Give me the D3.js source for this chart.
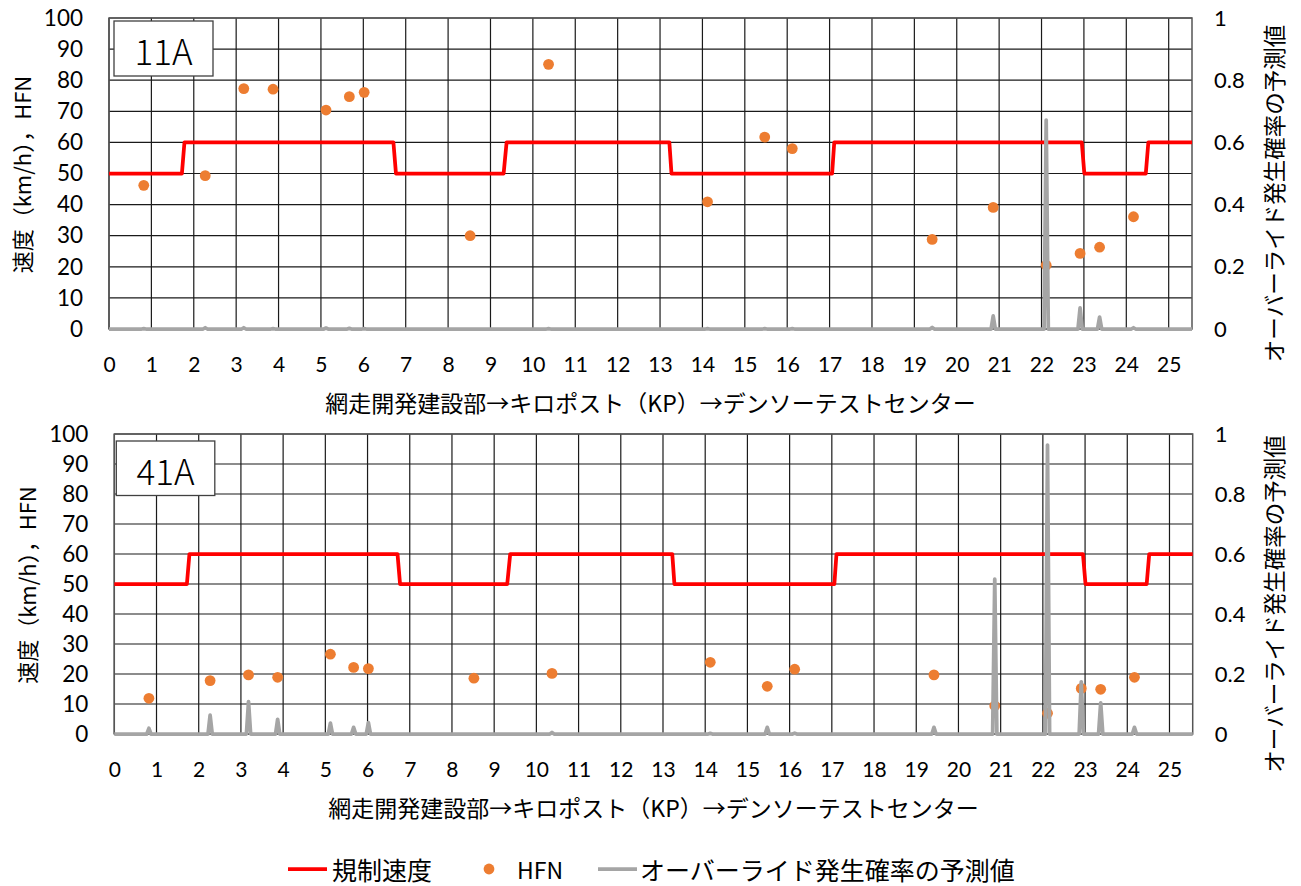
<!DOCTYPE html>
<html>
<head>
<meta charset="utf-8">
<script src="https://cdn.jsdelivr.net/npm/d3@7/dist/d3.min.js"></script>
<style>
  body { margin: 0; background: #fff; }
  svg { display: block; }
  text { font-family: "Noto Sans CJK JP", "Noto Sans", sans-serif; fill: #000; }
  .tick text { font-family: Lato, "Noto Sans", sans-serif; }
</style>
</head>
<body>
<svg id="chart" width="1301" height="886"></svg>
<script>
// Kilopost positions of the HFN survey points (km)
const surveyKm = [0.82, 2.27, 3.18, 3.87, 5.12, 5.67, 6.02, 8.52, 10.37, 14.12,
                  15.47, 16.12, 19.42, 20.86, 22.11, 22.91, 23.37, 24.17];

// HFN values at each survey point
const hfn11A = [46.2, 49.3, 77.3, 77.1, 70.4, 74.7, 76.1, 30.0, 85.1, 40.9,
                61.7, 58.0, 28.8, 39.1, 20.5, 24.3, 26.3, 36.1];
const hfn41A = [11.9, 17.8, 19.7, 18.9, 26.6, 22.2, 21.8, 18.6, 20.2, 23.9,
                15.9, 21.6, 19.7, 9.4, 6.9, 15.2, 14.9, 18.9];

// Predicted override probability at each survey point
const prob11A = [0.001, 0.004, 0.004, 0.001, 0.003, 0.002, 0.001, 0.0, 0.001, 0.001,
                 0.001, 0.001, 0.005, 0.042, 0.672, 0.068, 0.038, 0.004];
const prob41A = [0.019, 0.063, 0.108, 0.049, 0.036, 0.022, 0.038, 0.0, 0.005, 0.002,
                 0.022, 0.003, 0.022, 0.516, 0.963, 0.174, 0.104, 0.022];

// Regulated speed along the route (km, km/h)
const limitKm = [0, 1.72, 1.78, 6.71, 6.77, 9.31, 9.38, 13.22, 13.27, 17.06,
                 17.11, 22.95, 23.01, 24.46, 24.52, 25.55];
const limitSpeed = [50, 50, 60, 60, 50, 50, 60, 60, 50, 50,
                    60, 60, 50, 50, 60, 60];

// Axis ticks
const kmTicks = [0, 1, 2, 3, 4, 5, 6, 7, 8, 9, 10, 11, 12, 13, 14, 15, 16, 17, 18, 19, 20, 21, 22, 23, 24, 25];
const speedTicks = [0, 10, 20, 30, 40, 50, 60, 70, 80, 90, 100];
const probTicks = [0, 0.2, 0.4, 0.6, 0.8, 1];
const kmMax = 25.55;

// Text
const leftTitle = "速度（km/h），HFN";
const rightTitle = "オーバーライド発生確率の予測値";
const xTitle = "網走開発建設部→キロポスト（KP）→デンソーテストセンター";
const legendLimit = "規制速度";
const legendHfn = "HFN";
const legendProb = "オーバーライド発生確率の予測値";

const COLORS = { limit: "#FF0000", hfn: "#ED7D31", prob: "#A5A5A5", grid: "#1a1a1a", frame: "#555" };

const svg = d3.select("#chart");
svg.append("rect").attr("width", 1301).attr("height", 886).attr("fill", "#fff");

const panels = [
  { name: "11A", hfn: hfn11A, prob: prob11A,
    left: 109, top: 18, right: 1192, bottom: 329,
    box: { dx: 5, dy: 3, w: 99, h: 55 } },
  { name: "41A", hfn: hfn41A, prob: prob41A,
    left: 114.3, top: 434, right: 1192.7, bottom: 734,
    box: { dx: 2, dy: 7, w: 98.5, h: 54.5 } }
];

function drawPanel(p) {
  const g = svg.append("g");
  const x = d3.scaleLinear().domain([0, kmMax]).range([p.left, p.right]);
  const y = d3.scaleLinear().domain([0, 100]).range([p.bottom, p.top]);
  const y2 = d3.scaleLinear().domain([0, 1]).range([p.bottom, p.top]);

  // grid
  const grid = g.append("g").attr("stroke", COLORS.grid).attr("stroke-width", 1.2);
  grid.selectAll("line.v").data(kmTicks).join("line")
    .attr("x1", d => x(d)).attr("x2", d => x(d))
    .attr("y1", p.top).attr("y2", p.bottom);
  grid.selectAll("line.h").data(speedTicks).join("line")
    .attr("x1", p.left).attr("x2", p.right)
    .attr("y1", d => y(d)).attr("y2", d => y(d));

  // plot frame
  g.append("rect")
    .attr("x", p.left).attr("y", p.top)
    .attr("width", p.right - p.left).attr("height", p.bottom - p.top)
    .attr("fill", "none").attr("stroke", COLORS.frame).attr("stroke-width", 1.5);

  // axes
  const xAxis = g.append("g").attr("transform", `translate(0,${p.bottom})`)
    .call(d3.axisBottom(x).tickValues(kmTicks).tickSize(0).tickPadding(28).tickFormat(d => String(d)));
  const yAxis = g.append("g").attr("transform", `translate(${p.left},0)`)
    .call(d3.axisLeft(y).tickValues(speedTicks).tickSize(0).tickPadding(26).tickFormat(d => String(d)));
  const y2Axis = g.append("g").attr("transform", `translate(${p.right},0)`)
    .call(d3.axisRight(y2).tickValues(probTicks).tickSize(0).tickPadding(22).tickFormat(d => String(d)));
  [xAxis, yAxis, y2Axis].forEach(a => {
    a.select(".domain").remove();
    a.attr("font-family", null);
    a.selectAll("text").attr("fill", "#000");
  });
  xAxis.attr("font-size", 21);
  yAxis.attr("font-size", 22.5);
  y2Axis.attr("font-size", 22);

  // axis titles
  const midY = (p.top + p.bottom) / 2;
  g.append("text")
    .attr("transform", `translate(${p.left - 88},${midY + 1}) rotate(-90)`)
    .attr("text-anchor", "middle").attr("dominant-baseline", "central")
    .attr("font-size", 22).text(leftTitle);
  g.append("text")
    .attr("transform", `translate(1273,${midY + 20}) rotate(-90)`)
    .attr("text-anchor", "middle").attr("dominant-baseline", "central")
    .attr("font-size", 22.5).text(rightTitle);
  g.append("text")
    .attr("x", (p.left + p.right) / 2).attr("y", p.bottom + 73)
    .attr("text-anchor", "middle").attr("dominant-baseline", "central")
    .attr("font-size", 23).text(xTitle);

  // regulated speed
  const limitPts = limitKm.map((k, i) => [k, limitSpeed[i]]);
  g.append("path")
    .datum(limitPts)
    .attr("d", d3.line().x(d => x(d[0])).y(d => y(d[1])))
    .attr("fill", "none").attr("stroke", COLORS.limit)
    .attr("stroke-width", 3.75).attr("stroke-linejoin", "round");

  // HFN points
  g.append("g").selectAll("circle")
    .data(surveyKm.map((k, i) => [k, p.hfn[i]]))
    .join("circle")
    .attr("cx", d => x(d[0])).attr("cy", d => y(d[1])).attr("r", 5.4)
    .attr("fill", COLORS.hfn);

  // override probability (secondary axis): zero between survey points
  const probPts = [[0, 0]];
  surveyKm.forEach((k, i) => {
    probPts.push([k - 0.05, 0], [k, p.prob[i]], [k + 0.05, 0]);
  });
  probPts.push([kmMax, 0]);
  g.append("path")
    .datum(probPts)
    .attr("d", d3.line().x(d => x(d[0])).y(d => y2(d[1])))
    .attr("fill", "none").attr("stroke", COLORS.prob)
    .attr("stroke-width", 3.75).attr("stroke-linejoin", "round");

  // vehicle label
  g.append("rect")
    .attr("x", p.left + p.box.dx).attr("y", p.top + p.box.dy)
    .attr("width", p.box.w).attr("height", p.box.h)
    .attr("fill", "#fff").attr("stroke", "#404040").attr("stroke-width", 1.3);
  g.append("text")
    .attr("x", p.left + p.box.dx + p.box.w / 2)
    .attr("y", p.top + p.box.dy + p.box.h / 2 + 1)
    .attr("text-anchor", "middle").attr("dominant-baseline", "central")
    .attr("font-size", 35).attr("font-weight", 300).text(p.name);
}

panels.forEach(drawPanel);

// legend
const lg = svg.append("g").attr("transform", "translate(0,869)");
lg.append("line").attr("x1", 288).attr("x2", 327).attr("y1", 0).attr("y2", 0)
  .attr("stroke", COLORS.limit).attr("stroke-width", 3.75);
lg.append("text").attr("x", 332).attr("y", 0).attr("dominant-baseline", "central")
  .attr("font-size", 25).text(legendLimit);
lg.append("circle").attr("cx", 489).attr("cy", 0).attr("r", 5.4).attr("fill", COLORS.hfn);
lg.append("text").attr("x", 517).attr("y", 0).attr("dominant-baseline", "central")
  .attr("font-size", 23).text(legendHfn);
lg.append("line").attr("x1", 598).attr("x2", 637).attr("y1", 0).attr("y2", 0)
  .attr("stroke", COLORS.prob).attr("stroke-width", 3.75);
lg.append("text").attr("x", 640).attr("y", 0).attr("dominant-baseline", "central")
  .attr("font-size", 25).text(legendProb);
</script>
</body>
</html>
